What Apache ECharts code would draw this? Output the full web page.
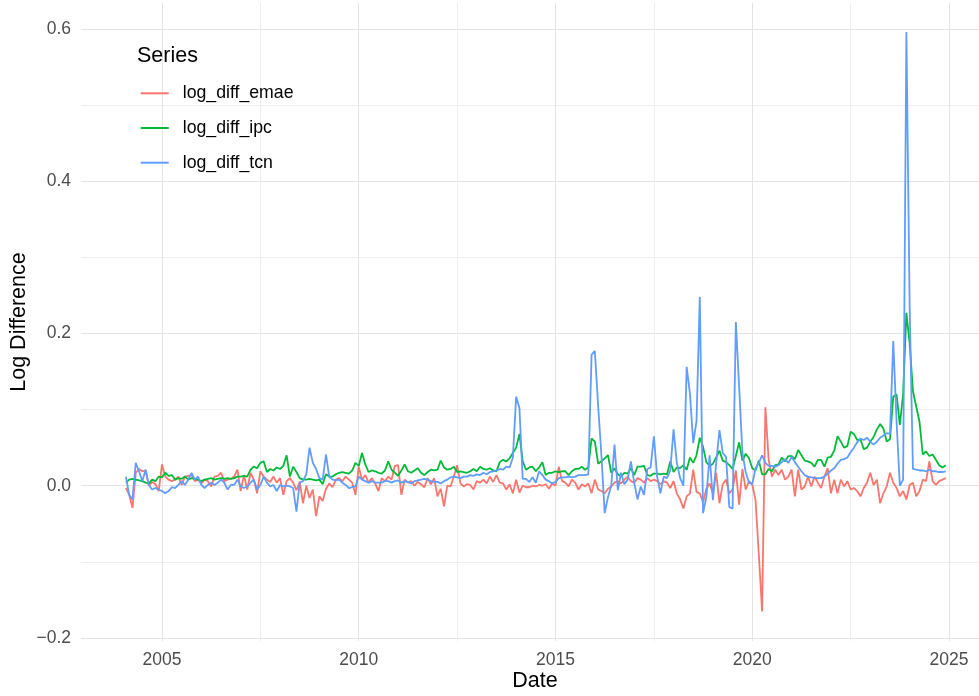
<!DOCTYPE html>
<html>
<head>
<meta charset="utf-8">
<script src="https://cdn.jsdelivr.net/npm/echarts@6/dist/echarts.min.js"></script>
<style>
  html, body { margin: 0; padding: 0; background: #ffffff; }
  #chart { width: 979px; height: 696px; }
</style>
</head>
<body>
<div id="chart"></div>
<script>
// Monthly series, first observation Feb 2004, last Dec 2024
var START_YEAR = 2004;
var START_MONTH = 2;

var seriesNames = ['log_diff_emae', 'log_diff_ipc', 'log_diff_tcn'];
var xTickLabels = ['2005', '2010', '2015', '2020', '2025'];
var yTickLabels = ['\u22120.2', '0.0', '0.2', '0.4', '0.6'];

var logDiffEmae = [
  /*2004*/ -0.003, -0.012, -0.029, 0.017, 0.022, 0.019, 0.020, 0.000, 0.005, 0.002, -0.007,
  /*2005*/ 0.028, 0.012, 0.008, 0.006, 0.008, 0.012, 0.001, 0.012, 0.013, 0.014, 0.006, 0.008,
  /*2006*/ 0.003, 0.008, 0.006, -0.001, 0.012, 0.013, 0.017, 0.006, 0.008, 0.009, 0.012, 0.021,
  /*2007*/ -0.007, 0.014, -0.005, 0.017, 0.008, -0.010, 0.019, 0.012, 0.008, 0.005, 0.012, 0.004,
  /*2008*/ 0.010, -0.012, 0.006, 0.010, 0.004, -0.006, 0.005, -0.023, 0.000, -0.016, -0.005, -0.040,
  /*2009*/ -0.014, -0.020, -0.004, 0.003, -0.002, 0.008, 0.010, 0.006, 0.012, 0.008, 0.004, -0.012,
  /*2010*/ 0.025, 0.008, 0.014, 0.004, 0.010, 0.003, -0.007, 0.010, 0.006, 0.012, 0.008, 0.026,
  /*2011*/ 0.027, -0.012, 0.008, 0.004, 0.006, 0.000, 0.005, 0.002, -0.002, 0.010, 0.002, 0.010,
  /*2012*/ -0.014, -0.004, -0.027, 0.000, -0.001, 0.012, 0.027, 0.003, -0.001, 0.002, 0.001, -0.005,
  /*2013*/ 0.006, 0.004, 0.008, 0.003, 0.012, 0.005, 0.014, 0.004, 0.003, -0.005, 0.002, -0.010,
  /*2014*/ 0.008, -0.009, 0.000, -0.002, -0.002, 0.000, -0.001, 0.001, 0.000, 0.002, -0.004, 0.003,
  /*2015*/ 0.000, 0.025, 0.006, 0.004, -0.001, 0.008, 0.004, -0.005, 0.002, -0.001, 0.003, -0.010,
  /*2016*/ 0.008, -0.005, -0.007, -0.010, -0.004, -0.001, 0.004, 0.006, 0.003, 0.008, 0.012, 0.006,
  /*2017*/ 0.004, 0.010, 0.008, 0.004, 0.010, 0.006, 0.008, 0.006, 0.002, 0.006, 0.004, -0.003,
  /*2018*/ 0.006, -0.010, -0.018, -0.030, -0.014, -0.010, 0.021, -0.008, -0.010, -0.022, -0.004, 0.003,
  /*2019*/ -0.010, 0.017, -0.023, 0.002, 0.008, -0.010, -0.005, 0.020, -0.025, 0.022, -0.005, 0.006,
  /*2020*/ 0.002, -0.019, -0.090, -0.165, 0.103, 0.034, 0.012, 0.021, 0.014, 0.021, 0.008, 0.012,
  /*2021*/ 0.021, -0.014, 0.021, -0.005, -0.001, 0.012, -0.001, 0.012, 0.004, -0.003, 0.012, 0.023,
  /*2022*/ -0.010, 0.008, -0.010, 0.008, -0.001, 0.006, -0.005, -0.003, -0.007, -0.014, -0.003, 0.004,
  /*2023*/ 0.017, 0.001, 0.008, -0.023, -0.010, -0.001, 0.017, 0.004, -0.003, -0.014, -0.007, -0.018,
  /*2024*/ 0.001, 0.004, -0.014, -0.007, 0.008, 0.006, 0.032, 0.006, 0.001, 0.006, 0.008, 0.010
];

var logDiffIpc = [
  /*2004*/ 0.004, 0.008, 0.009, 0.008, 0.007, 0.006, 0.004, 0.003, 0.008, 0.006, 0.012,
  /*2005*/ 0.011, 0.017, 0.013, 0.014, 0.008, 0.010, 0.009, 0.012, 0.008, 0.010, 0.009, 0.008,
  /*2006*/ 0.006, 0.008, 0.009, 0.010, 0.008, 0.009, 0.010, 0.009, 0.010, 0.009, 0.010, 0.012,
  /*2007*/ 0.012, 0.013, 0.012, 0.021, 0.025, 0.023, 0.030, 0.032, 0.018, 0.022, 0.020, 0.024,
  /*2008*/ 0.022, 0.026, 0.040, 0.012, 0.025, 0.018, 0.010, 0.008, 0.008, 0.009, 0.008, 0.007,
  /*2009*/ 0.008, 0.002, 0.015, 0.012, 0.012, 0.015, 0.017, 0.018, 0.017, 0.016, 0.020, 0.030,
  /*2010*/ 0.026, 0.043, 0.028, 0.018, 0.020, 0.019, 0.017, 0.016, 0.020, 0.032, 0.021, 0.017,
  /*2011*/ 0.013, 0.020, 0.028, 0.019, 0.017, 0.020, 0.023, 0.017, 0.014, 0.018, 0.021, 0.020,
  /*2012*/ 0.021, 0.033, 0.024, 0.021, 0.022, 0.025, 0.018, 0.019, 0.018, 0.017, 0.019, 0.022,
  /*2013*/ 0.019, 0.025, 0.022, 0.021, 0.023, 0.020, 0.019, 0.031, 0.034, 0.032, 0.036, 0.043,
  /*2014*/ 0.050, 0.068, 0.032, 0.021, 0.024, 0.025, 0.019, 0.024, 0.031, 0.014, 0.017, 0.017,
  /*2015*/ 0.019, 0.018, 0.019, 0.019, 0.014, 0.019, 0.022, 0.022, 0.025, 0.021, 0.024, 0.062,
  /*2016*/ 0.058, 0.029, 0.032, 0.036, 0.040, 0.017, 0.023, 0.015, 0.012, 0.017, 0.016, 0.023,
  /*2017*/ 0.014, 0.025, 0.025, 0.026, 0.014, 0.013, 0.016, 0.016, 0.015, 0.016, 0.015, 0.032,
  /*2018*/ 0.018, 0.024, 0.023, 0.027, 0.021, 0.037, 0.030, 0.040, 0.063, 0.051, 0.031, 0.026,
  /*2019*/ 0.029, 0.037, 0.046, 0.033, 0.031, 0.027, 0.022, 0.039, 0.057, 0.033, 0.042, 0.036,
  /*2020*/ 0.023, 0.020, 0.033, 0.015, 0.015, 0.022, 0.019, 0.027, 0.028, 0.037, 0.032, 0.039,
  /*2021*/ 0.039, 0.035, 0.047, 0.040, 0.033, 0.032, 0.030, 0.025, 0.034, 0.034, 0.025, 0.037,
  /*2022*/ 0.038, 0.046, 0.065, 0.058, 0.050, 0.052, 0.071, 0.068, 0.060, 0.061, 0.048, 0.050,
  /*2023*/ 0.058, 0.064, 0.074, 0.081, 0.075, 0.058, 0.061, 0.117, 0.120, 0.080, 0.120, 0.227,
  /*2024*/ 0.187, 0.124, 0.104, 0.084, 0.041, 0.045, 0.039, 0.041, 0.034, 0.027, 0.024, 0.027
];

var logDiffTcn = [
  /*2004*/ 0.012, -0.012, -0.018, 0.030, 0.019, 0.006, 0.021, 0.001, -0.005, -0.003, -0.005,
  /*2005*/ -0.007, -0.010, -0.007, -0.002, -0.003, 0.001, 0.006, 0.001, 0.008, 0.017, 0.008, 0.012,
  /*2006*/ 0.001, -0.003, 0.001, 0.004, 0.001, 0.004, 0.008, 0.004, -0.005, 0.001, 0.001, 0.008,
  /*2007*/ -0.001, -0.003, -0.001, 0.004, 0.008, -0.005, 0.001, 0.012, 0.004, -0.001, 0.001, -0.007,
  /*2008*/ 0.001, -0.001, 0.000, -0.001, -0.003, -0.034, 0.004, 0.006, 0.015, 0.050, 0.030, 0.022,
  /*2009*/ 0.010, 0.008, 0.041, 0.012, 0.008, 0.007, 0.008, 0.004, 0.001, -0.003, -0.002, -0.001,
  /*2010*/ 0.012, 0.008, 0.006, 0.004, 0.006, 0.004, 0.004, 0.004, 0.006, 0.006, 0.004, 0.006,
  /*2011*/ 0.007, 0.004, 0.006, 0.005, 0.003, 0.006, 0.007, 0.008, 0.009, 0.008, 0.006, 0.005,
  /*2012*/ 0.005, 0.003, 0.006, 0.008, 0.011, 0.012, 0.011, 0.010, 0.012, 0.012, 0.014, 0.013,
  /*2013*/ 0.015, 0.014, 0.017, 0.015, 0.018, 0.019, 0.020, 0.022, 0.021, 0.025, 0.024, 0.037,
  /*2014*/ 0.117, 0.102, 0.009, 0.009, 0.005, 0.011, 0.004, 0.019, 0.014, 0.008, 0.006, 0.003,
  /*2015*/ 0.005, 0.010, 0.011, 0.011, 0.012, 0.011, 0.012, 0.014, 0.014, 0.014, 0.015, 0.172,
  /*2016*/ 0.177, 0.105, 0.040, -0.036, -0.015, 0.000, 0.054, -0.006, 0.017, 0.002, 0.008, 0.032,
  /*2017*/ 0.004, -0.018, -0.001, -0.012, 0.022, 0.024, 0.065, 0.012, -0.010, 0.012, 0.010, 0.020,
  /*2018*/ 0.074, 0.030, 0.010, 0.000, 0.156, 0.121, 0.056, 0.085, 0.248, -0.036, -0.015, 0.040,
  /*2019*/ -0.019, 0.030, 0.073, 0.043, 0.038, -0.028, -0.030, 0.215, 0.130, 0.043, 0.018, 0.004,
  /*2020*/ 0.002, 0.023, 0.030, 0.040, 0.030, 0.026, 0.026, 0.025, 0.027, 0.031, 0.035, 0.030,
  /*2021*/ 0.038, 0.031, 0.025, 0.019, 0.014, 0.012, 0.011, 0.010, 0.010, 0.010, 0.012, 0.016,
  /*2022*/ 0.020, 0.023, 0.029, 0.034, 0.035, 0.037, 0.044, 0.050, 0.057, 0.062, 0.060, 0.063,
  /*2023*/ 0.058, 0.054, 0.058, 0.063, 0.066, 0.069, 0.068, 0.190, 0.085, 0.000, 0.008, 0.596,
  /*2024*/ 0.235, 0.022, 0.021, 0.020, 0.020, 0.019, 0.021, 0.019, 0.019, 0.018, 0.018, 0.019
];

var FONT = "'Liberation Sans', Arial, Helvetica, sans-serif";
var COLORS = ['#F8766D', '#00BA38', '#619CFF'];
var GRID_COLORS = ['#E3E3E3', '#EEEEEE']; // major, minor

function decimalDate(i) {
  var k = (START_MONTH - 1) + i;
  return START_YEAR + Math.floor(k / 12) + (k % 12) / 12;
}
function toPoints(values) {
  return values.map(function (v, i) { return [decimalDate(i), v]; });
}

var chart = echarts.init(document.getElementById('chart'), null, { renderer: 'canvas' });

var option = {
  animation: false,
  backgroundColor: '#ffffff',
  textStyle: { fontFamily: FONT },
  title: {
    text: 'Series',
    left: 137,
    top: 45,
    padding: 0,
    textStyle: { fontFamily: FONT, fontSize: 21.5, fontWeight: 'normal', color: '#000000' }
  },
  legend: {
    orient: 'vertical',
    left: 140.7,
    top: 83.3,
    padding: 0,
    icon: 'rect',
    itemWidth: 28,
    itemHeight: 2,
    itemGap: 14.7,
    data: seriesNames,
    textStyle: { fontFamily: FONT, fontSize: 17.7, color: '#000000', lineHeight: 20, padding: [0, 0, 0, 9] }
  },
  grid: [
    { left: 81, right: 0, top: 3, bottom: 58 },
    { left: 63.6, right: 0, top: 3, bottom: 55 }
  ],
  xAxis: [
    {
      gridIndex: 0, type: 'value', min: 2002.942, max: 2025.762,
      axisLine: { show: false }, axisTick: { show: false }, axisLabel: { show: false }, splitLine: { show: false }
    },
    {
      gridIndex: 1, type: 'value', min: 2002.5, max: 2025.762, interval: 2.5,
      axisLine: { show: false }, axisTick: { show: false },
      axisLabel: {
        margin: 10, color: '#4D4D4D', fontSize: 17.5, fontFamily: FONT,
        showMinLabel: false, showMaxLabel: false,
        formatter: function (v) {
          var s = String(Math.round(v));
          return (Math.abs(v - Math.round(v)) < 1e-6 && xTickLabels.indexOf(s) >= 0) ? s : '';
        }
      },
      splitLine: { show: true, showMinLine: false, showMaxLine: false, lineStyle: { color: GRID_COLORS, width: 1 } }
    }
  ],
  yAxis: [
    {
      gridIndex: 0, type: 'value', min: -0.2, max: 0.634, interval: 0.1,
      axisLine: { show: false }, axisTick: { show: false },
      axisLabel: {
        margin: 10, color: '#4D4D4D', fontSize: 17.5, fontFamily: FONT, showMaxLabel: false,
        formatter: function (v) {
          var r = Math.round(v * 10);
          if (Math.abs(v * 10 - r) > 1e-6) return '';
          var s = (r < 0 ? '\u2212' : '') + (Math.abs(r) / 10).toFixed(1);
          return yTickLabels.indexOf(s) >= 0 ? s : '';
        }
      },
      splitLine: { show: true, showMaxLine: false, lineStyle: { color: GRID_COLORS, width: 1 } }
    },
    {
      gridIndex: 1, type: 'value', min: 0, max: 1, show: false,
      splitLine: { show: false }
    }
  ],
  graphic: [
    {
      type: 'text', x: 535, y: 681, silent: true,
      style: { text: 'Date', fontSize: 21.5, fontFamily: FONT, fill: '#000000', align: 'center', verticalAlign: 'middle', textAlign: 'center', textVerticalAlign: 'middle' }
    },
    {
      type: 'text', x: 19, y: 322, rotation: Math.PI / 2, silent: true,
      style: { text: 'Log Difference', fontSize: 21.5, fontFamily: FONT, fill: '#000000', align: 'center', verticalAlign: 'middle', textAlign: 'center', textVerticalAlign: 'middle' }
    }
  ],
  series: [
    { name: seriesNames[0], data: toPoints(logDiffEmae), color: COLORS[0] },
    { name: seriesNames[1], data: toPoints(logDiffIpc), color: COLORS[1] },
    { name: seriesNames[2], data: toPoints(logDiffTcn), color: COLORS[2] }
  ].map(function (s) {
    return {
      name: s.name, type: 'line', xAxisIndex: 0, yAxisIndex: 0,
      data: s.data, showSymbol: false, symbol: 'none', smooth: false,
      itemStyle: { color: s.color },
      lineStyle: { color: s.color, width: 1.8 },
      emphasis: { disabled: true }
    };
  })
};

chart.setOption(option);
</script>
</body>
</html>
